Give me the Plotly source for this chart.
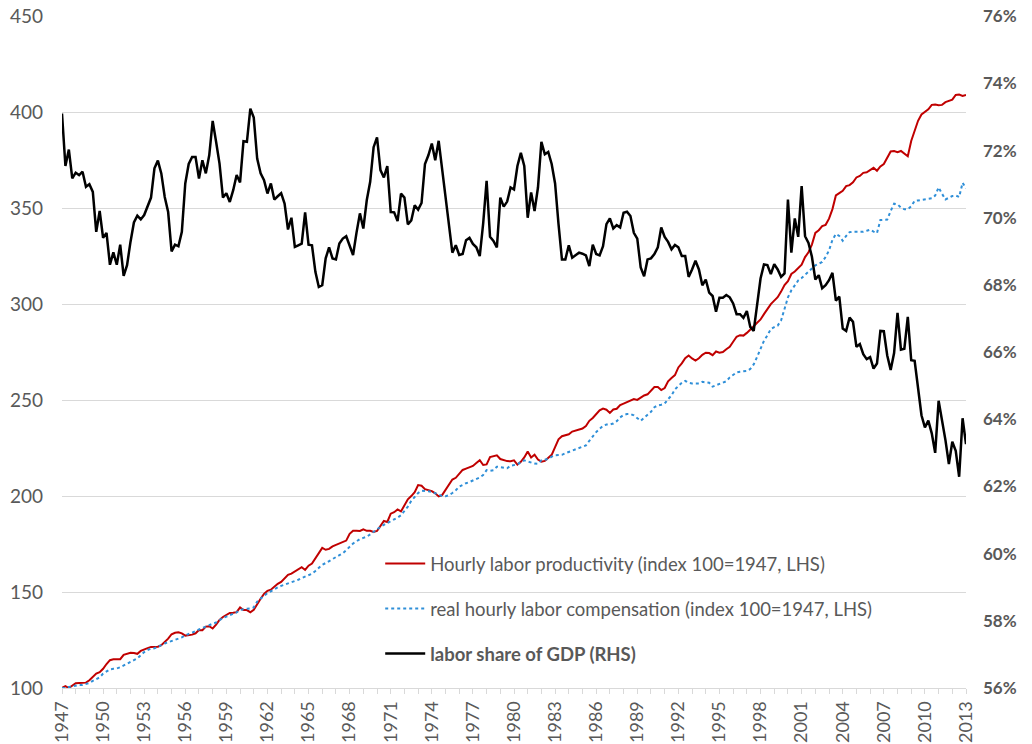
import numpy as np
import plotly.graph_objects as go

# Quarterly data, 1947Q1 .. 2013Q1
start_year = 1947

labor_share = [
    73.1, 71.54, 72.03, 71.17, 71.34, 71.27, 71.37, 70.92, 71.0, 70.77,
    69.58, 70.2, 69.4, 69.55, 68.6, 68.97, 68.6, 69.2, 68.27, 68.59,
    69.28, 69.86, 70.06, 69.95, 70.08, 70.37, 70.6, 71.47, 71.7, 71.32,
    70.62, 70.17, 69.0, 69.2, 69.15, 69.58, 71.02, 71.6, 71.81, 71.81,
    71.17, 71.71, 71.32, 71.86, 72.88, 72.26, 71.61, 70.6, 70.73, 70.47,
    70.82, 71.27, 71.05, 72.28, 72.26, 73.25, 72.98, 71.76, 71.32, 71.12,
    70.72, 71.02, 70.54, 70.64, 70.73, 70.42, 69.65, 70.0, 69.13, 69.18,
    69.23, 70.16, 69.2, 69.18, 68.39, 67.94, 67.99, 68.79, 69.12, 68.79,
    68.76, 69.23, 69.38, 69.45, 69.15, 68.89, 69.55, 70.13, 69.68, 70.52,
    71.07, 72.1, 72.39, 71.42, 71.2, 71.54, 70.17, 70.16, 69.9, 70.72,
    70.6, 69.8, 69.92, 70.37, 70.24, 70.44, 71.6, 71.86, 72.21, 71.71,
    72.29, 71.47, 70.62, 69.73, 68.96, 69.18, 68.89, 68.92, 69.33, 69.4,
    69.22, 69.12, 68.86, 69.83, 71.1, 69.43, 69.31, 69.12, 70.6, 70.33,
    70.48, 70.9, 70.84, 71.54, 71.93, 71.54, 70.0, 70.75, 70.2, 70.9,
    72.26, 71.89, 71.96, 71.6, 71.02, 69.81, 68.76, 68.76, 69.18, 68.81,
    68.88, 68.96, 68.93, 68.88, 68.56, 69.2, 68.92, 68.88, 69.15, 69.81,
    69.98, 69.68, 69.78, 69.71, 70.15, 70.18, 70.05, 69.55, 69.38, 68.52,
    68.26, 68.76, 68.79, 68.92, 69.12, 69.71, 69.43, 69.28, 69.06, 69.19,
    69.12, 68.86, 68.86, 68.24, 68.46, 68.72, 68.46, 67.99, 68.16, 67.77,
    67.67, 67.2, 67.62, 67.62, 67.7, 67.63, 67.45, 67.13, 67.13, 67.02,
    67.22, 66.75, 66.63, 67.45, 68.19, 68.61, 68.59, 68.32, 68.62, 68.46,
    68.24, 68.34, 70.54, 68.96, 69.98, 69.43, 70.94, 69.45, 69.25, 68.84,
    68.16, 68.29, 67.9, 67.99, 68.14, 68.36, 67.53, 67.65, 66.7, 66.63,
    67.03, 66.9, 66.16, 66.24, 65.94, 65.79, 65.85, 65.51, 65.66, 66.63,
    66.62, 65.9, 65.47, 65.97, 67.17, 66.07, 66.1, 67.05, 65.76, 65.74,
    64.97, 64.12, 63.76, 63.96, 63.58, 63.0, 64.55, 64.02, 63.38, 62.67,
    63.33, 63.06, 62.29, 64.03, 63.26,
]

productivity = [
    100, 101, 100, 101.5, 102.5, 102.6, 102.6, 102.8, 104, 105.5,
    107.5, 108.2, 110, 112.5, 114.5, 115, 115, 115, 117.3, 118,
    118.4, 118.2, 117.8, 119.3, 120.2, 120.8, 121.4, 121.3, 121.5, 122.3,
    124, 125.7, 128, 128.8, 129, 128.5, 127.3, 127.5, 127.8, 128.5,
    130.2, 130.1, 132, 132.2, 131, 133, 135.5, 137, 138, 139.1,
    139.2, 139.5, 142, 140.6, 140.6, 139.4, 140.7, 143.8, 146.5, 149,
    150.6, 151.2, 152.8, 154.3, 155.3, 157, 159, 159.6, 160.7, 162,
    162.9, 161.5, 163.7, 164.8, 167.5, 170.5, 173, 172, 172.5, 173.8,
    174.5, 175.1, 175.8, 176.8, 180.3, 181.9, 181.9, 181.8, 182.7, 181.9,
    181.9, 181.3, 181.8, 184.6, 187, 186.5, 190.8, 191.6, 193, 192,
    195, 198.3, 200, 202, 205.7, 205.4, 203.6, 203, 202.6, 201.4,
    199.8, 200.5, 203, 206, 208.6, 209.5, 211.8, 213.6, 214.3, 215,
    215.7, 217.2, 218.7, 216.2, 216.5, 220.3, 220.8, 221.2, 219.3, 218.6,
    218.2, 218.1, 218.6, 216.4, 217.8, 220.1, 223.2, 220.1, 221.5, 219,
    217.9, 218.3, 219.7, 221.5, 225.5, 229.6, 231.2, 231.8, 232.2, 233.6,
    234.2, 234.6, 235.2, 236.5, 239.2, 240.7, 243, 244.7, 245.6, 245,
    243.3, 245.1, 245.5, 247.4, 248.2, 249, 250, 250.5, 250.1, 251.2,
    252.4, 253, 255, 256.8, 256.8, 255.2, 256.3, 259.8, 261.5, 263,
    267, 269.1, 271.8, 273.2, 271.7, 270.6, 271.8, 273.6, 274.7, 274.5,
    273.4, 275.3, 274.7, 275, 276.5, 277.8, 280.4, 283, 283.8, 283.6,
    285, 287, 288.5, 290.3, 292, 294.8, 297.6, 300, 301.8, 303.6,
    306.5, 309.9, 312, 315.7, 317, 318.8, 320.5, 324.5, 327, 331,
    337.1, 338.5, 340.6, 341.3, 344.5, 349.5, 356.6, 357.8, 359, 361.5,
    362, 363.5, 366, 366.8, 368.4, 368.7, 370, 371, 369.5, 371.7,
    373, 376.5, 379.5, 379.8, 379.2, 379.8, 378.5, 377, 385, 390.5,
    395.5, 398.8, 400, 401.5, 403.8, 404, 403.6, 403.8, 405.2, 405.7,
    406.5, 409, 409.2, 408.5, 409,
]

compensation = [
    100, 100, 100.5, 101, 101.5, 101.6, 101.6, 102, 102.6, 103.7,
    104.5, 105.5, 107.5, 108.8, 109.7, 110, 110.2, 110.8, 111.8, 112.9,
    113.7, 114.5, 115.4, 117.2, 118.7, 119.8, 120.5, 120.7, 121.3, 122.3,
    123.2, 123.8, 124.7, 125.2, 125.7, 126.4, 127.4, 128, 128.6, 129.6,
    130.5, 131.1, 132, 132.7, 133.5, 134.1, 135.3, 136.5, 137.2, 137.9,
    138.6, 139.4, 140.7, 141.2, 141.3, 141.5, 142, 145, 146.5, 148.4,
    149.5, 150.4, 151.6, 152.4, 153.2, 153.8, 154.6, 155.2, 155.8, 156.4,
    157.3, 157.9, 158.6, 159.5, 161, 162.6, 164.2, 165.1, 166, 167.3,
    168.2, 169.2, 170.2, 171.8, 173.7, 175.3, 176.4, 177.6, 178.2, 178.8,
    180, 181.4, 182.6, 184, 185, 185.9, 186.8, 187.6, 188.8, 190,
    192, 194.5, 197.5, 199.4, 201.6, 202.8, 202.8, 202.5, 202.2, 201.4,
    200.4, 200, 199.9, 200.5, 201.6, 203, 204.9, 206, 206.7, 207.3,
    208, 208.8, 209.7, 211, 213.5, 213.2, 213.5, 215.3, 215.1, 214.7,
    214.5, 215.8, 216.3, 216.5, 217.7, 218.6, 218, 217.4, 216.9, 216.8,
    218.6, 218.9, 219.4, 220.5, 221.3, 221.4, 221.5, 222.3, 223, 223.7,
    224.6, 225.4, 225.9, 226.4, 228.8, 231.3, 233.3, 235, 236.6, 237.3,
    237.3, 237.8, 239, 241, 242.2, 242.7, 242.7, 242, 240.5, 239.2,
    240.8, 242.3, 243.9, 246.3, 247.2, 247.6, 248.2, 250.5, 252.4, 255.6,
    257.4, 259, 260, 259, 258.7, 258.7, 258.7, 259.5, 259.4, 259,
    257, 257.6, 258.2, 258.8, 259.8, 261.8, 263.3, 264.4, 264.8, 264.9,
    265.2, 266.2, 268.6, 272.5, 276.6, 280.9, 283.7, 287, 288, 288.8,
    291.5, 298, 303.5, 307.2, 310, 312.3, 313.6, 315.2, 316.8, 318.6,
    320.2, 321, 322, 324.5, 328, 333.5, 336.5, 335.5, 333, 335.5,
    337.5, 337.7, 337.7, 337.7, 337.7, 338.2, 338.8, 337.8, 337, 343.8,
    343.8, 344, 348.5, 352.3, 352, 350.3, 349.4, 349.4, 351, 353.8,
    354, 354.3, 354.7, 355.1, 355.1, 356.5, 360.8, 357.5, 354.5, 355.4,
    356.3, 356.6, 355.8, 363.2, 360.3,
]

tick_years = list(range(1947, 2014, 3))
left_ticks = [100, 150, 200, 250, 300, 350, 400, 450]
right_ticks = [56, 58, 60, 62, 64, 66, 68, 70, 72, 74, 76]

names = [
    "Hourly labor productivity (index 100=1947, LHS)",
    "real hourly labor compensation (index 100=1947, LHS)",
    "<b>labor share of GDP (RHS)</b>",
]

def quarters(n):
    return start_year + np.arange(n) / 4.0

FONT = "Lato, 'Open Sans', sans-serif"
GREY = "#595959"

fig = go.Figure()
fig.add_trace(go.Scatter(
    x=quarters(len(productivity)), y=productivity, mode="lines",
    name=names[0], legendgroup="a",
    line=dict(color="#C00000", width=2),
))
fig.add_trace(go.Scatter(
    x=quarters(len(compensation)), y=compensation, mode="lines",
    name=names[1], legendgroup="b",
    line=dict(color="#2F8FD8", width=2, dash="dot"),
))
fig.add_trace(go.Scatter(
    x=quarters(len(labor_share)), y=labor_share, mode="lines",
    name=names[2], legendgroup="c", yaxis="y2",
    line=dict(color="#000000", width=2.5),
))

fig.update_layout(
    width=1032, height=744,
    margin=dict(l=62, r=66, t=16, b=56, autoexpand=False),
    paper_bgcolor="white", plot_bgcolor="white",
    font=dict(family=FONT, size=18.5, color=GREY),
    showlegend=True,
    legend=dict(
        x=0.352, y=0.213, xanchor="left", yanchor="top",
        bgcolor="rgba(0,0,0,0)", itemwidth=40,
        font=dict(family=FONT, size=18.5, color=GREY),
        traceorder="grouped", tracegroupgap=18,
    ),
    xaxis=dict(
        range=[1947, 2013], tickmode="array", tickvals=tick_years,
        ticktext=[str(y) for y in tick_years], tickangle=-90,
        showgrid=False, zeroline=False, automargin=False,
        showline=True, linecolor="#d9d9d9", linewidth=1,
        ticks="outside", ticklen=5, tickcolor="#d9d9d9",
        ticklabeloverflow="allow",
        minor=dict(dtick=1, ticks="outside", ticklen=5, tickcolor="#d9d9d9", showgrid=False),
        tickfont=dict(family=FONT, size=18, color=GREY),
    ),
    yaxis=dict(
        range=[100, 450.1], tickvals=left_ticks,
        showgrid=True, gridcolor="#d9d9d9", gridwidth=1,
        zeroline=False, showline=False, ticks="", automargin=False,
        ticklabelstandoff=18, ticklabeloverflow="allow",
        tickfont=dict(family=FONT, size=19, color=GREY),
    ),
    yaxis2=dict(
        range=[56, 76.0057], overlaying="y", side="right",
        tickvals=right_ticks, ticktext=[f"{v}%" for v in right_ticks],
        showgrid=False, zeroline=False, showline=False, ticks="", automargin=False,
        ticklabelstandoff=16, ticklabeloverflow="allow",
        tickfont=dict(family=FONT, size=17, color=GREY, weight="bold"),
    ),
)

# Remove the browser's default 8px body margin so the figure fills the window.
fig.write_html(
    "out.html",
    config={"displayModeBar": False},
    post_script="document.body.style.margin='0';document.body.style.overflow='hidden';",
)
